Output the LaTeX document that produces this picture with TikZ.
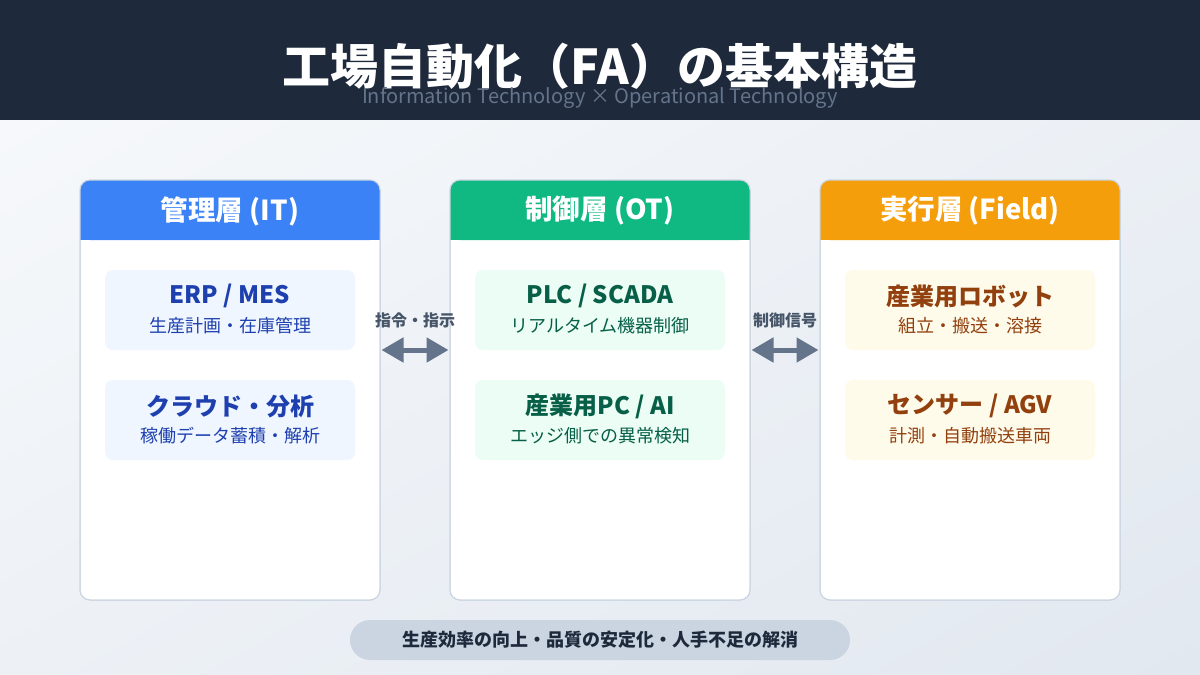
\documentclass[tikz,border=0pt]{standalone}
\usepackage{fontspec}
\setmainfont{Noto Sans CJK JP}
\usetikzlibrary{arrows.meta,calc,shadings}
\definecolor{navy}{HTML}{1E293B}
\definecolor{subgray}{HTML}{64748B}
\definecolor{bgA}{HTML}{F8FAFC}
\definecolor{bgB}{HTML}{E2E8F0}
\definecolor{bgM}{HTML}{EDF1F6}
\definecolor{frame}{HTML}{CBD5E1}
\definecolor{cBlue}{HTML}{3B82F6}
\definecolor{cGreen}{HTML}{10B981}
\definecolor{cOrange}{HTML}{F59E0B}
\definecolor{lBlue}{HTML}{EFF6FF}
\definecolor{lGreen}{HTML}{ECFDF5}
\definecolor{lOrange}{HTML}{FFFBEB}
\definecolor{tBlue}{HTML}{1E40AF}
\definecolor{tGreen}{HTML}{065F46}
\definecolor{tOrange}{HTML}{92400E}
\definecolor{arrowc}{HTML}{64748B}
\definecolor{labc}{HTML}{475569}
\tikzset{
  colbox/.style={draw=frame, line width=1pt, fill=white, rounded corners=10pt,
    minimum width=300pt, minimum height=420pt, inner sep=0pt},
  headtxt/.style={text=white, font=\fontsize{27.5}{32}\selectfont\bfseries},
  itembox/.style={rounded corners=8pt, minimum width=250pt, minimum height=80pt, inner sep=0pt},
  itemtitle/.style={font=\fontsize{24}{28}\selectfont\bfseries},
  itemsub/.style={font=\fontsize{18}{21}\selectfont},
  biarrow/.style={draw=arrowc, line width=5pt, {Triangle[length=22pt,width=24pt]}-{Triangle[length=22pt,width=24pt]}, shorten <=1pt, shorten >=1pt},
  arrlabel/.style={text=labc, font=\fontsize{16}{19}\selectfont\bfseries},
}
\begin{document}
\begin{tikzpicture}[x=1pt,y=-1pt]
\useasboundingbox (0,0) rectangle (1200,675);
% background
\shade[upper left=bgA, upper right=bgM, lower left=bgM, lower right=bgB] (0,0) rectangle (1200,675);
\fill[navy] (0,0) rectangle (1200,120);
\node[text=white, font=\fontsize{48}{54}\selectfont\bfseries] (title) at (600,66) {工場自動化（FA）の基本構造};
\node[text=subgray, font=\fontsize{20}{23}\selectfont] (subtitle) at (600,98) {Information Technology × Operational Technology};

% columns
\foreach \nm/\cx/\hc in {it/230/cBlue, ot/600/cGreen, fd/970/cOrange}{
  \node[colbox] (\nm) at (\cx,390) {};
  \fill[\hc, rounded corners=10pt] (\cx-150,180) rectangle (\cx+150,240);
  \fill[\hc] (\cx-150,215) rectangle (\cx+150,240);
  \draw[frame, line width=1pt, rounded corners=10pt] (\cx-150,180) rectangle (\cx+150,600);
}
\node[headtxt] (ith) at (230,211) {管理層 (IT)};
\node[headtxt] (oth) at (600,211) {制御層 (OT)};
\node[headtxt] (fdh) at (970,211) {実行層 (Field)};

% items
\node[itembox, fill=lBlue] (it1) at (230,310) {};
\node[itemtitle, text=tBlue] (it1t) at (230,296) {ERP / MES};
\node[itemsub, text=tBlue] (it1s) at (230,326) {生産計画・在庫管理};
\node[itembox, fill=lBlue] (it2) at (230,420) {};
\node[itemtitle, text=tBlue] (it2t) at (230,406) {クラウド・分析};
\node[itemsub, text=tBlue] (it2s) at (230,436) {稼働データ蓄積・解析};

\node[itembox, fill=lGreen] (ot1) at (600,310) {};
\node[itemtitle, text=tGreen] (ot1t) at (600,296) {PLC / SCADA};
\node[itemsub, text=tGreen] (ot1s) at (600,326) {リアルタイム機器制御};
\node[itembox, fill=lGreen] (ot2) at (600,420) {};
\node[itemtitle, text=tGreen] (ot2t) at (600,406) {産業用PC / AI};
\node[itemsub, text=tGreen] (ot2s) at (600,436) {エッジ側での異常検知};

\node[itembox, fill=lOrange] (fd1) at (970,310) {};
\node[itemtitle, text=tOrange] (fd1t) at (970,296) {産業用ロボット};
\node[itemsub, text=tOrange] (fd1s) at (970,326) {組立・搬送・溶接};
\node[itembox, fill=lOrange] (fd2) at (970,420) {};
\node[itemtitle, text=tOrange] (fd2t) at (970,406) {センサー / AGV};
\node[itemsub, text=tOrange] (fd2s) at (970,436) {計測・自動搬送車両};

% arrows
\draw[biarrow] ([yshift=40pt]it.east) -- ([yshift=40pt]ot.west);
\draw[biarrow] ([yshift=40pt]ot.east) -- ([yshift=40pt]fd.west);
\node[arrlabel] (l1) at (415,320) {指令・指示};
\node[arrlabel] (l2) at (785,320) {制御信号};

% bottom pill
\node[fill=frame, rounded corners=20pt, minimum width=500pt, minimum height=40pt, inner sep=0pt,
  text=navy, font=\fontsize{18}{21}\selectfont\bfseries] (goal) at (600,640) {生産効率の向上・品質の安定化・人手不足の解消};
\end{tikzpicture}
\end{document}
